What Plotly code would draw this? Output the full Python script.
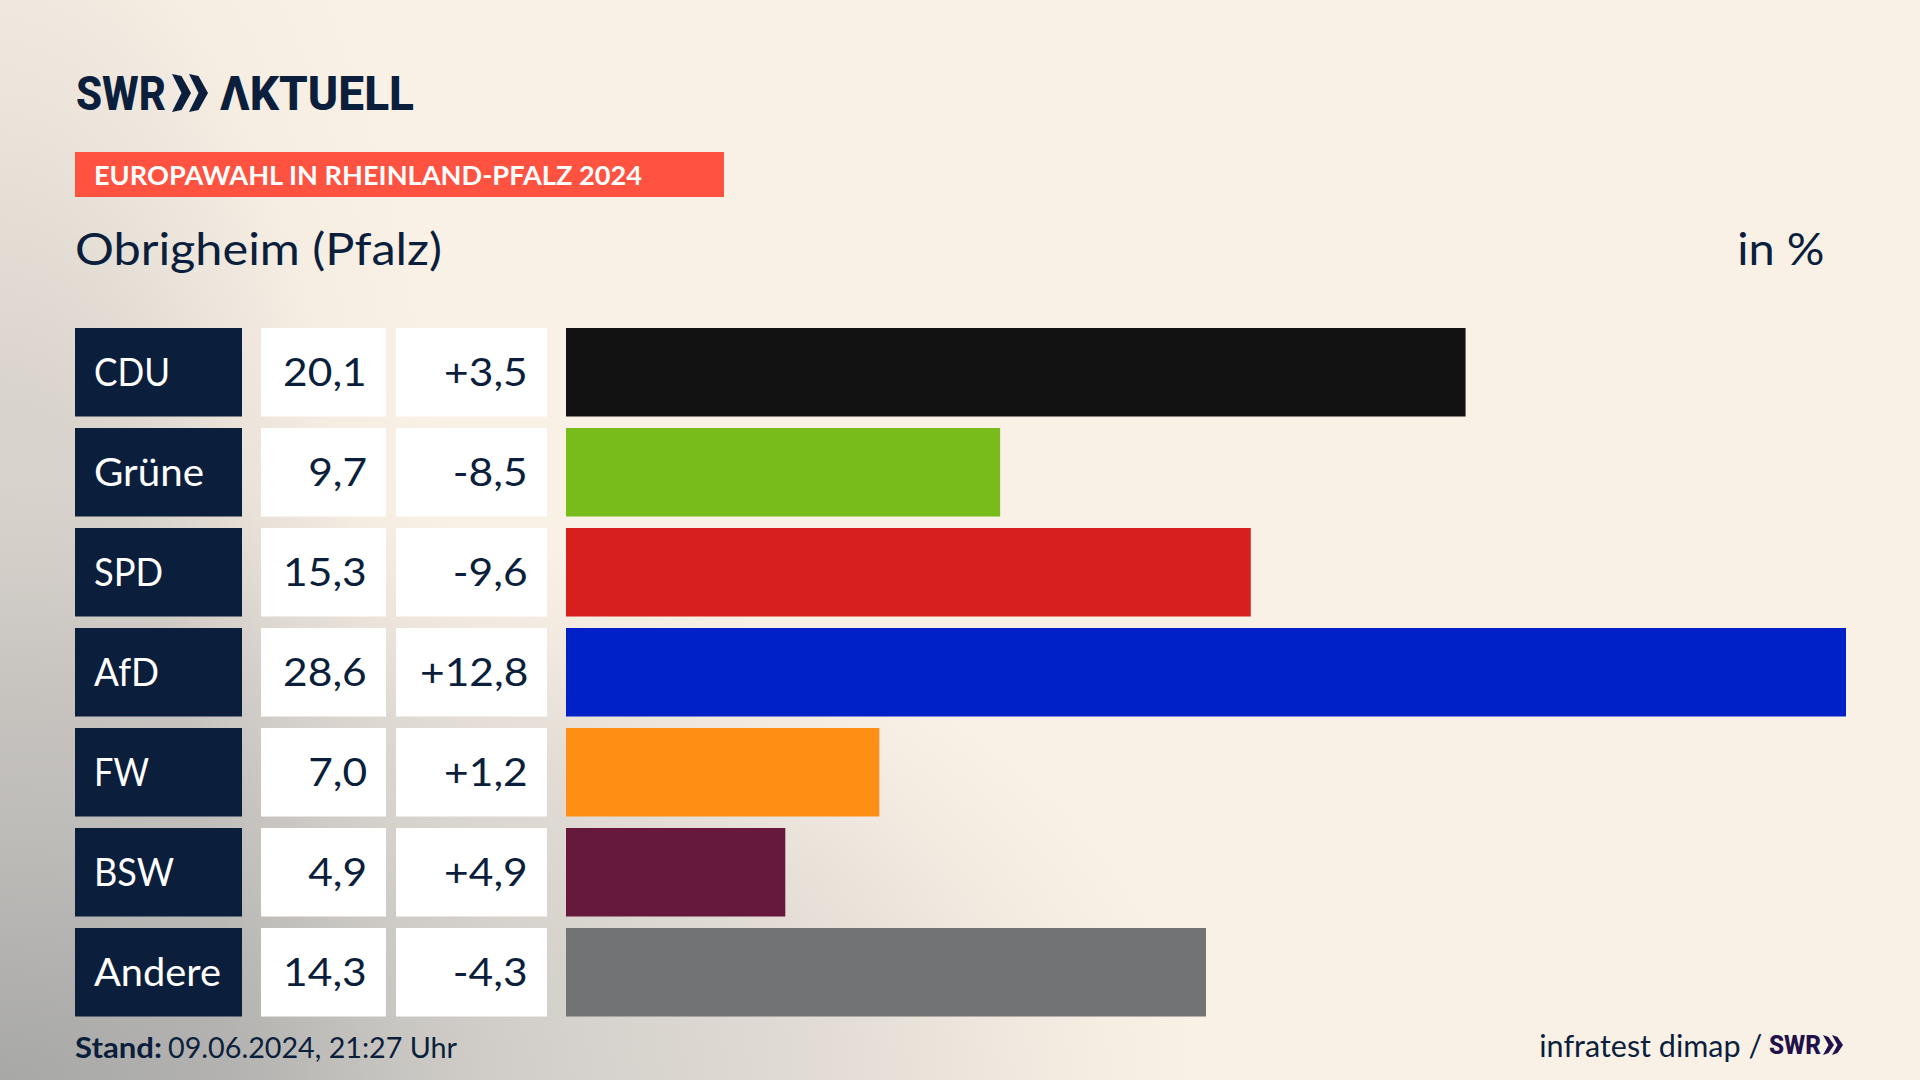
import json
import urllib.parse
import plotly.graph_objects as go

parties = ["CDU", "Grüne", "SPD", "AfD", "FW", "BSW", "Andere"]
shares = [20.1, 9.7, 15.3, 28.6, 7.0, 4.9, 14.3]
changes = [3.5, -8.5, -9.6, 12.8, 1.2, 4.9, -4.3]
bar_colors = ["#121212", "#78BC1B", "#D71F1D", "#0021C7", "#FF8E14", "#66183D", "#727375"]
kicker = "EUROPAWAHL IN RHEINLAND-PFALZ 2024"
place = "Obrigheim (Pfalz)"
unit = "in %"
stand_label = "Stand:"
stand_value = "09.06.2024, 21:27 Uhr"
source = "infratest dimap /"

# drawn width in pixels of each party label (the reference face is not installed)
label_widths = [76, 110, 69, 65, 55, 80, 127]

W, H = 1920, 1080
NAVY = "#0B1F3C"
PURPLE = "#22104A"
CREAM = "#FAF1E6"
FONT = "Lato"
LOGO = "Roboto"


def px(x):
    return x / W


def py(y):
    return 1 - y / H


def de(v, sign=False):
    s = f"{v:+.1f}" if sign else f"{v:.1f}"
    return s.replace(".", ",")


svg = (
    f'<svg xmlns="http://www.w3.org/2000/svg" width="{W}" height="{H}">'
    '<defs>'
    '<radialGradient id="a" gradientUnits="userSpaceOnUse" cx="0" cy="0" r="1" '
    f'gradientTransform="translate(0 {H}) scale(1200 600)">'
    '<stop offset="0" stop-color="#adadab"/>'
    '<stop offset="0.39" stop-color="#cfccc7"/>'
    '<stop offset="0.69" stop-color="#e2dcd5"/>'
    '<stop offset="0.85" stop-color="#f1e9df"/>'
    f'<stop offset="1" stop-color="{CREAM}"/>'
    '</radialGradient>'
    '<radialGradient id="b" gradientUnits="userSpaceOnUse" cx="0" cy="0" r="1" '
    f'gradientTransform="translate(0 {H}) scale(500 1500)">'
    '<stop offset="0" stop-color="#a0a0a0" stop-opacity="0.4"/>'
    '<stop offset="0.45" stop-color="#a0a0a0" stop-opacity="0.37"/>'
    '<stop offset="0.65" stop-color="#a0a0a0" stop-opacity="0.16"/>'
    '<stop offset="0.8" stop-color="#a0a0a0" stop-opacity="0.05"/>'
    '<stop offset="1" stop-color="#a0a0a0" stop-opacity="0"/>'
    '</radialGradient></defs>'
    f'<rect width="{W}" height="{H}" fill="url(#a)"/>'
    f'<rect width="{W}" height="{H}" fill="url(#b)"/></svg>'
)
bg = "data:image/svg+xml;charset=utf-8," + urllib.parse.quote(svg)

fig = go.Figure()
fig.add_trace(go.Bar(
    x=shares, y=parties, orientation="h",
    marker=dict(color=bar_colors, line=dict(width=0)),
    hoverinfo="skip", showlegend=False,
))

shapes = []
annotations = []
stretch = {}


def text(x, y, s, size, color=NAVY, anchor="left", font=FONT, ref_y="paper",
         weight=400, width=None, factor=None):
    if width is not None or factor is not None:
        stretch[len(annotations)] = dict(width=width, factor=factor)
    annotations.append(dict(
        x=px(x), xref="paper", y=y, yref=ref_y, text=s, showarrow=False,
        xanchor=anchor, yanchor="middle", align=anchor,
        font=dict(family=font, size=size, color=color, weight=weight),
    ))


def box(x0, x1, i, color):
    shapes.append(dict(
        type="rect", xref="paper", yref="y", x0=px(x0), x1=px(x1),
        y0=i - 0.4425, y1=i + 0.4425, fillcolor=color, line=dict(width=0), layer="below",
    ))


for i, party in enumerate(parties):
    box(75, 242, i, NAVY)
    box(261, 386, i, "#FFFFFF")
    box(396, 547, i, "#FFFFFF")
    text(92, i - 0.008, party, 39, "#FFFFFF", ref_y="y", width=label_widths[i])
    text(369, i - 0.008, de(shares[i]), 39, anchor="right", ref_y="y", factor=1.09)
    text(530, i - 0.008, de(changes[i], True), 39, anchor="right", ref_y="y", factor=1.09)

shapes.append(dict(type="rect", xref="paper", yref="paper", x0=px(75), x1=px(724),
                   y0=py(152), y1=py(197), fillcolor="#FF5240", line=dict(width=0), layer="below"))


def chevrons(x, y0, y1, w, gap, color):
    out = []
    mid = (y0 + y1) / 2
    for k in range(2):
        a = x + k * gap
        t = w * 0.5
        pts = [(a, y0), (a + t, y0 + 2), (a + w, mid), (a + t, y1 - 2), (a, y1), (a + w - t, mid)]
        path = "M " + " L ".join(f"{px(p)} {py(q)}" for p, q in pts) + " Z"
        out.append(dict(type="path", xref="paper", yref="paper", path=path,
                        fillcolor=color, line=dict(width=0)))
    return out


shapes += chevrons(172, 74, 112, 19, 17, NAVY)
shapes += chevrons(1823, 1035, 1055, 11, 9, PURPLE)

text(74, py(93), "SWR", 49, font=LOGO, weight=800, width=90)
text(218, py(93), "ΛKTUELL", 49, font=LOGO, weight=800, width=194)
text(92, py(175), kicker, 27, "#FFFFFF", weight=700, width=548)
text(73, py(248), place, 45, width=367)
text(1827, py(248), unit, 45, anchor="right", factor=1.045)
text(73, py(1046), stand_label, 29, weight=700, width=87)
text(166, py(1046), stand_value, 29, factor=0.99)
text(1764, py(1045), source, 30, anchor="right", factor=1.017)
text(1767, py(1045), "SWR", 25, PURPLE, font=LOGO, weight=800, width=52)

fig.update_layout(
    width=W, height=H, margin=dict(l=0, r=0, t=0, b=0),
    paper_bgcolor=CREAM, plot_bgcolor="rgba(0,0,0,0)",
    bargap=0.115, showlegend=False,
    xaxis=dict(domain=[px(566), px(1846)], range=[0, 28.6], visible=False, fixedrange=True),
    yaxis=dict(domain=[py(1022.25), py(322.25)], autorange=False, range=[6.5, -0.5],
               type="category", categoryorder="array", categoryarray=parties,
               visible=False, fixedrange=True),
    shapes=shapes, annotations=annotations,
    images=[dict(source=bg, xref="paper", yref="paper", x=0, y=1, sizex=1, sizey=1,
                 xanchor="left", yanchor="top", sizing="stretch", layer="below")],
)

post = """
document.body.style.margin='0';document.body.style.overflow='hidden';
var stretch = %s;
document.querySelectorAll('.annotation').forEach(function (g) {
  var s = stretch[g.getAttribute('data-index')];
  var t = g.querySelector('.annotation-text');
  if (!s || !t) return;
  var w = s.width || t.getComputedTextLength() * s.factor;
  t.setAttribute('textLength', w);
  t.setAttribute('lengthAdjust', 'spacingAndGlyphs');
});
""" % json.dumps(stretch)

fig.write_html("out.html", config={"displayModeBar": False}, post_script=post)
